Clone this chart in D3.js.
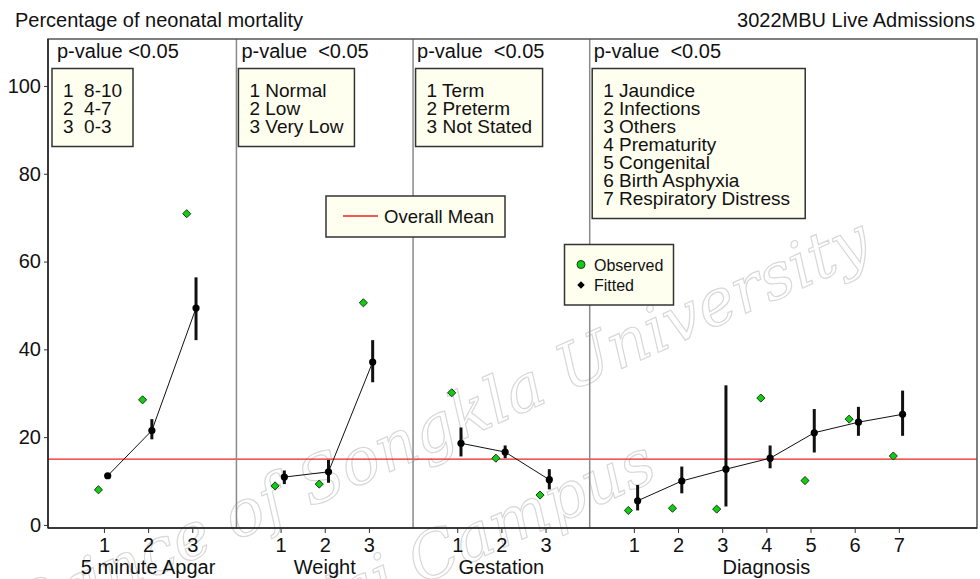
<!DOCTYPE html>
<html>
<head>
<meta charset="utf-8">
<script src="https://cdn.jsdelivr.net/npm/d3@7"></script>
<style>
  body { margin: 0; background: #fff; }
  svg text { font-family: "Liberation Sans", Arial, sans-serif; fill: #111; }
</style>
</head>
<body>
<div id="chart"></div>
<script>
// panels of the x axis
const panelNames = ["5 minute Apgar", "Weight", "Gestation", "Diagnosis"];
const panelStart = [1, 5, 9, 13];
const pText = ["p-value <0.05", "p-value  <0.05", "p-value  <0.05", "p-value  <0.05"];
const levelLabels = [
  ["1  8-10", "2  4-7", "3  0-3"],
  ["1 Normal", "2 Low", "3 Very Low"],
  ["1 Term", "2 Preterm", "3 Not Stated"],
  ["1 Jaundice", "2 Infections", "3 Others", "4 Prematurity", "5 Congenital", "6 Birth Asphyxia", "7 Respiratory Distress"]
];

// percentages
const observed = [
  [8.0, 28.5, 70.9],
  [8.9, 9.3, 50.6],
  [30.1, 15.2, 6.8],
  [3.3, 3.8, 3.6, 28.9, 10.1, 24.1, 15.7]
];
const fitted = [
  [11.2, 21.5, 49.4],
  [10.9, 12.1, 37.1],
  [18.6, 16.6, 10.3],
  [5.5, 10.0, 12.7, 15.2, 21.0, 23.4, 25.2]
];
const lower = [
  [10.6, 19.5, 42.1],
  [9.3, 9.6, 32.5],
  [15.6, 15.2, 8.1],
  [3.3, 7.2, 4.2, 12.9, 16.5, 20.3, 20.3]
];
const upper = [
  [11.8, 24.1, 56.4],
  [12.4, 14.8, 42.1],
  [22.2, 18.1, 12.7],
  [9.1, 13.3, 31.8, 18.1, 26.4, 26.9, 30.6]
];
const overallMean = 15.0;
const yTicks = [0, 20, 40, 60, 80, 100];

const width = 980, height = 579;
const svg = d3.select("#chart").append("svg")
  .attr("width", width).attr("height", height);

const x = d3.scaleLinear().domain([-0.267, 20.77]).range([48, 977]);
const y = d3.scaleLinear().domain([-0.7, 110.7]).range([528, 39]);
const panelLeft = [x.range()[0], x(4), x(8), x(12)];

// watermark
const wm = svg.append("g");
wm.append("text")
  .attr("transform", "translate(450,445) rotate(-24)")
  .attr("text-anchor", "middle")
  .style("font-family", "'DejaVu Serif', serif")
  .style("font-style", "italic")
  .style("font-size", "64px")
  .style("fill", "none")
  .style("stroke", "#d8d8d8")
  .style("stroke-width", 1.2)
  .text("Prince of Songkla University");
wm.append("text")
  .attr("transform", "translate(660,478) rotate(-24)")
  .attr("text-anchor", "end")
  .style("font-family", "'DejaVu Serif', serif")
  .style("font-style", "italic")
  .style("font-size", "64px")
  .style("fill", "none")
  .style("stroke", "#d8d8d8")
  .style("stroke-width", 1.2)
  .text("Hat Yai Campus");

// titles
svg.append("text").attr("x", 15).attr("y", 27)
  .style("font-size", "20px").text("Percentage of neonatal mortality");
svg.append("text").attr("x", 975).attr("y", 27).attr("text-anchor", "end")
  .style("font-size", "20px").text("3022MBU Live Admissions");

// overall mean
svg.append("line")
  .attr("x1", x.range()[0]).attr("x2", x.range()[1])
  .attr("y1", y(overallMean)).attr("y2", y(overallMean))
  .attr("stroke", "#ee2222").attr("stroke-width", 1.3);

// panel dividers
[4, 8, 12].forEach(d => {
  svg.append("line")
    .attr("x1", x(d)).attr("x2", x(d))
    .attr("y1", y.range()[1]).attr("y2", y.range()[0])
    .attr("stroke", "#8a8a8a").attr("stroke-width", 1.5);
});

// frame
svg.append("rect")
  .attr("x", x.range()[0]).attr("y", y.range()[1])
  .attr("width", x.range()[1] - x.range()[0])
  .attr("height", y.range()[0] - y.range()[1])
  .attr("fill", "none").attr("stroke", "#555").attr("stroke-width", 1.5);
svg.append("line")
  .attr("x1", x.range()[0]).attr("x2", x.range()[1])
  .attr("y1", y.range()[0]).attr("y2", y.range()[0])
  .attr("stroke", "#222").attr("stroke-width", 1.5);
svg.append("line")
  .attr("x1", x.range()[0]).attr("x2", x.range()[0])
  .attr("y1", y.range()[1]).attr("y2", y.range()[0])
  .attr("stroke", "#222").attr("stroke-width", 1.5);

// y axis
const yAxis = svg.append("g")
  .attr("transform", `translate(${x.range()[0]},0)`)
  .call(d3.axisLeft(y).tickValues(yTicks).tickSize(4).tickPadding(3));
yAxis.select(".domain").remove();
yAxis.selectAll("text").style("font-size", "20px").attr("fill", "#111");
yAxis.selectAll("line").attr("stroke", "#333");

const obsOff = -0.125, fitOff = 0.085;
const pOff = [9, 5, 4, 4];
const boxOff = [4, 2, 2.5, 2.5];
const boxW = [81, 116, 127, 213];

panelNames.forEach((name, p) => {
  const pos = fitted[p].map((v, i) => panelStart[p] + i);

  // x axis for this panel
  const xa = svg.append("g")
    .attr("transform", `translate(0,${y.range()[0]})`)
    .call(d3.axisBottom(x).tickValues(pos)
      .tickFormat((d, i) => i + 1).tickSize(5).tickPadding(5));
  xa.select(".domain").remove();
  xa.selectAll("text").style("font-size", "20px").attr("fill", "#111");
  xa.selectAll("line").attr("stroke", "#333");

  svg.append("text")
    .attr("x", x(panelStart[p] + (pos.length - 1) / 2)).attr("y", 574)
    .attr("text-anchor", "middle").style("font-size", "20px").text(name);

  // p-value
  svg.append("text")
    .attr("x", panelLeft[p] + pOff[p]).attr("y", 58)
    .style("font-size", "20px").style("white-space", "pre").text(pText[p]);

  // level legend
  const lx = panelLeft[p] + boxOff[p];
  const labs = levelLabels[p];
  const lg = svg.append("g");
  lg.append("rect")
    .attr("x", lx).attr("y", 68.5)
    .attr("width", boxW[p]).attr("height", labs.length * 18 + 24)
    .attr("fill", "#fffff0").attr("stroke", "#333").attr("stroke-width", 1.5);
  lg.selectAll("text").data(labs).join("text")
    .attr("x", lx + 11).attr("y", (d, i) => 97 + i * 18)
    .style("font-size", "19px").style("white-space", "pre")
    .text(d => d);

  // fitted line
  svg.append("path")
    .datum(fitted[p])
    .attr("d", d3.line().x((d, i) => x(pos[i] + fitOff)).y(d => y(d)))
    .attr("fill", "none").attr("stroke", "#111").attr("stroke-width", 1);

  // error bars
  svg.append("g").selectAll("line").data(fitted[p]).join("line")
    .attr("x1", (d, i) => x(pos[i] + fitOff)).attr("x2", (d, i) => x(pos[i] + fitOff))
    .attr("y1", (d, i) => y(lower[p][i])).attr("y2", (d, i) => y(upper[p][i]))
    .attr("stroke", "#111").attr("stroke-width", 3);

  // fitted points
  svg.append("g").selectAll("circle").data(fitted[p]).join("circle")
    .attr("cx", (d, i) => x(pos[i] + fitOff)).attr("cy", d => y(d))
    .attr("r", 3.6).attr("fill", "#000");

  // observed points
  svg.append("g").selectAll("path").data(observed[p]).join("path")
    .attr("transform", (d, i) => `translate(${x(pos[i] + obsOff)},${y(d)})`)
    .attr("d", d3.symbol(d3.symbolDiamond2, 42))
    .attr("fill", "#11cc11").attr("stroke", "#1a3a1a").attr("stroke-width", 1);
});

// overall mean legend
const ml = svg.append("g");
ml.append("rect").attr("x", 326).attr("y", 196).attr("width", 179).attr("height", 41)
  .attr("fill", "#fffff0").attr("stroke", "#333").attr("stroke-width", 1.5);
ml.append("line").attr("x1", 343).attr("x2", 378).attr("y1", 216).attr("y2", 216)
  .attr("stroke", "#ee2222").attr("stroke-width", 1.3);
ml.append("text").attr("x", 384).attr("y", 223).style("font-size", "18.5px").text("Overall Mean");

// observed / fitted legend
const pl = svg.append("g");
pl.append("rect").attr("x", 564.5).attr("y", 244.5).attr("width", 109).attr("height", 60.5)
  .attr("fill", "#fffff0").attr("stroke", "#333").attr("stroke-width", 1.5);
pl.append("circle").attr("cx", 581).attr("cy", 264.5).attr("r", 4)
  .attr("fill", "#11cc11").attr("stroke", "#1a3a1a").attr("stroke-width", 1);
pl.append("path").attr("transform", "translate(581,285)")
  .attr("d", d3.symbol(d3.symbolDiamond2, 36)).attr("fill", "#000");
pl.append("text").attr("x", 594).attr("y", 270.5).style("font-size", "16px").text("Observed");
pl.append("text").attr("x", 594).attr("y", 291).style("font-size", "16px").text("Fitted");
</script>
</body>
</html>
